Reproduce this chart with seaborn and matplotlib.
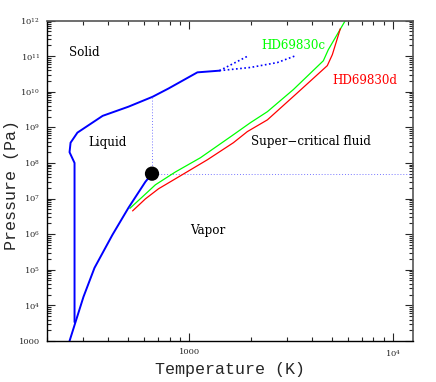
import numpy as np
import pandas as pd
import matplotlib
matplotlib.use("Agg")
import matplotlib.pyplot as plt
import matplotlib.ticker as mticker
import seaborn as sns

# ---- data ----
# water vapour-pressure / sublimation curve, ends at critical point
vap_T = [258, 276, 302, 342, 419, 502, 608, 655]
vap_P = [1e3, 3.4e3, 1.74e4, 1.13e5, 9.6e5, 5.5e6, 2.96e7, 5.0e7]

# melting curve (solid)
melt_T = [273, 273, 258, 261, 282, 375, 502, 659, 789, 1094, 1403]
melt_P = [3.4e3, 1.0e8, 2.0e8, 3.7e8, 7.1e8, 2.1e9, 3.8e9, 7.2e9, 1.23e10, 3.5e10, 3.9e10]

# dotted extrapolations of melting curve
melt_up_T = [1403, 1643, 1945]
melt_up_P = [3.9e10, 6.2e10, 1.02e11]
melt_lo_T = [1403, 1991, 2700, 3310]
melt_lo_P = [3.9e10, 4.8e10, 6.6e10, 1.02e11]

# critical point
crit_T = [655]
crit_P = [5.0e7]
crit_melt_P = 7.2e9
T_min, T_max = 200, 12500
P_min, P_max = 1e3, 1e12

# planetary profiles
c_T = [510, 588, 681, 854, 1132, 1643, 1991, 2412, 3235, 4539, 4800, 5820]
c_P = [5.3e6, 1.12e7, 2.44e7, 5.6e7, 1.40e8, 6.2e8, 1.35e9, 2.75e9,
       1.15e10, 7.4e10, 1.51e11, 1.0e12]
d_T = [526, 608, 705, 854, 1225, 1643, 1924, 2412, 3385, 4747, 5025, 5500]
d_P = [4.5e6, 9.8e6, 1.88e7, 3.6e7, 1.23e8, 3.7e8, 7.6e8, 1.62e9, 9.3e9,
       5.4e10, 1.1e11, 5.9e11]

# region labels: (text, T, P, colour)
labels = [
    ("Solid", 255, 1.26e11, "black"),
    ("Liquid", 320, 3.7e8, "black"),
    ("HD69830c", 2254, 2.0e11, "#00ff00"),
    ("HD69830d", 5025, 2.05e10, "#ff0000"),
    ("Super\u2212critical fluid", 2014, 4.0e8, "black"),
    ("Vapor", 1011, 1.23e6, "black"),
]

# ---- figure ----
sns.set_style("ticks")
plt.rcParams["font.family"] = ["DejaVu Serif"]
plt.rcParams["mathtext.fontset"] = "dejavuserif"

fig = plt.figure(figsize=(4.36, 3.82), dpi=100)
ax = fig.add_axes([47 / 436, 1 - 341 / 382, 366 / 436, 320.5 / 382])

ax.set_xscale("log")
ax.set_yscale("log")
ax.set_xlim(T_min, T_max)
ax.set_ylim(P_min, P_max)

blue = "#0000ff"
sns.lineplot(x=vap_T, y=vap_P, sort=False, estimator=None, color=blue, lw=1.4, ax=ax)
sns.lineplot(x=melt_T, y=melt_P, sort=False, estimator=None, color=blue, lw=1.4, ax=ax)
sns.lineplot(x=melt_up_T, y=melt_up_P, sort=False, estimator=None, color=blue,
             lw=1.2, ls=(0, (1, 1.5)), ax=ax)
sns.lineplot(x=melt_lo_T, y=melt_lo_P, sort=False, estimator=None, color=blue,
             lw=1.2, ls=(0, (1, 1.5)), ax=ax)
# critical guides
sns.lineplot(x=[crit_T[0], crit_T[0]], y=[crit_P[0], crit_melt_P], sort=False,
             estimator=None, color="#7777ff", lw=0.7, ls=(0, (1, 2)), ax=ax)
sns.lineplot(x=[crit_T[0], T_max], y=[crit_P[0], crit_P[0]], sort=False,
             estimator=None, color="#7777ff", lw=0.7, ls=(0, (1, 2)), ax=ax)

sns.lineplot(x=c_T, y=c_P, sort=False, estimator=None, color="#00ff00", lw=0.9, ax=ax)
sns.lineplot(x=d_T, y=d_P, sort=False, estimator=None, color="#ff0000", lw=0.9, ax=ax)

sns.scatterplot(x=crit_T, y=crit_P, color="black", s=105, edgecolor="none",
                zorder=5, ax=ax)

for txt, T, P, col in labels:
    ax.text(T, P, txt, color=col, fontsize=8.6, ha="left", va="center")

# ticks
def make_fmt(lo, hi):
    def fmt(v, pos):
        if v <= 0 or v < lo * 0.999 or v > hi * 1.001:
            return ""
        e = int(round(np.log10(v)))
        if abs(v - 10 ** e) > 1e-6 * v:
            return ""
        if e == 3:
            return "1000"
        return r"$10^{%d}$" % e
    return fmt

ax.xaxis.set_major_locator(mticker.LogLocator(base=10, numticks=10))
ax.xaxis.set_minor_locator(mticker.LogLocator(base=10, subs=np.arange(2, 10), numticks=20))
ax.yaxis.set_major_locator(mticker.LogLocator(base=10, numticks=20))
ax.yaxis.set_minor_locator(mticker.LogLocator(base=10, subs=np.arange(2, 10), numticks=40))
ax.xaxis.set_major_formatter(mticker.FuncFormatter(make_fmt(T_min, T_max)))
ax.yaxis.set_major_formatter(mticker.FuncFormatter(make_fmt(P_min, P_max)))
ax.xaxis.set_minor_formatter(mticker.NullFormatter())
ax.yaxis.set_minor_formatter(mticker.NullFormatter())

ax.tick_params(which="both", direction="in", top=True, right=True, width=0.8,
               labelsize=6, pad=5)
ax.tick_params(which="major", length=6)
ax.tick_params(which="minor", length=3)

for s in ["left", "bottom"]:
    ax.spines[s].set_color("black")
    ax.spines[s].set_linewidth(1.0)
for s in ["top", "right"]:
    ax.spines[s].set_color("#555555")
    ax.spines[s].set_linewidth(1.2)

ax.set_xlabel("Temperature (K)", fontsize=12, family="Liberation Mono")
ax.set_ylabel("Pressure (Pa)", fontsize=12, family="Liberation Mono")
ax.xaxis.set_label_coords(183 / 366, -21 / 320.5)
ax.yaxis.set_label_coords(-28 / 366, 156 / 320.5)

fig.savefig("out.png", dpi=100)
